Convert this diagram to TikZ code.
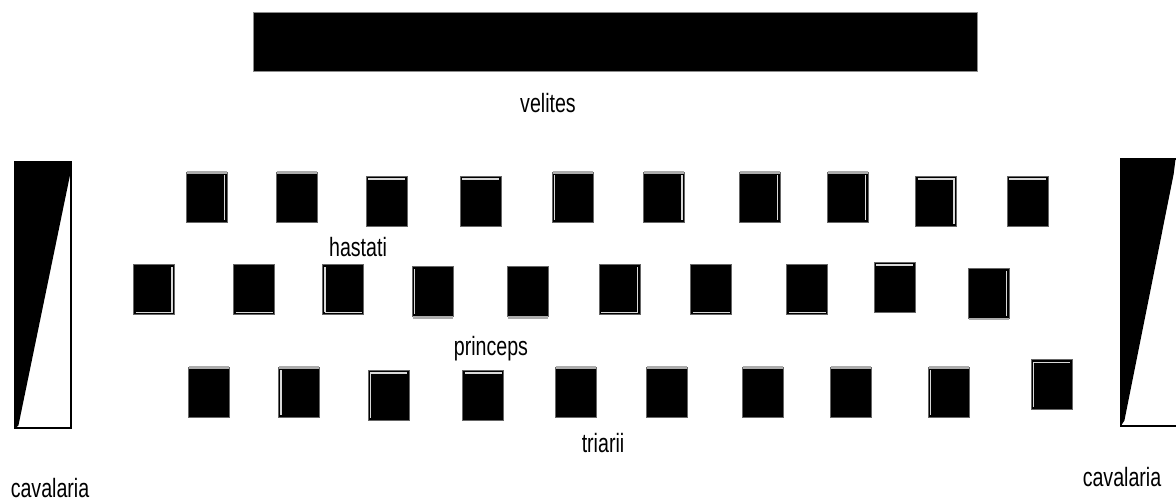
\documentclass[tikz,border=0pt]{standalone}
\usepackage{fontspec}
\newfontfamily\labfont[FakeStretch=0.74]{Liberation Sans}
\begin{document}
\begin{tikzpicture}[x=1pt,y=-1pt,
  sq/.style={rectangle,fill=black,draw=black!60,line width=1pt,minimum width=41pt,minimum height=50pt,inner sep=0pt},
  hl/.style={draw=gray!30,line width=1.4pt},
  gr/.style={draw=gray!65,line width=2.4pt},
  lab/.style={anchor=base,inner sep=0pt,font=\labfont\fontsize{26.5}{26.5}\selectfont},
  cav/.style={rectangle,draw=black,line width=1.2pt,inner sep=0pt,minimum width=56pt,minimum height=266pt}]
\useasboundingbox (0,0) rectangle (1176,502);
\fill[white] (0,0) rectangle (1176,502);

% velites
\node[rectangle,fill=black,draw=black!45,line width=1pt,minimum width=724pt,minimum height=59pt,inner sep=0pt] (vel) at (615,42.5) {};

% cavalry
\node[cav] (cavL) at (43,295) {};
\fill[black] (cavL.north west) -- (cavL.north east) -- ([yshift=-6pt]cavL.north east) -- ([shift={(4pt,3pt)}]cavL.south west) -- (cavL.south west) -- cycle;
\node[cav,minimum width=58pt,minimum height=267pt] (cavR) at (1150,292.5) {};
\fill[black] (cavR.north west) -- ([xshift=-4pt]cavR.north east) -- ([shift={(-6pt,-16pt)}]cavR.north east) -- ([shift={(4pt,6pt)}]cavR.south west) -- (cavR.south west) -- cycle;

% hastati
\foreach \i/\x/\y in {1/206.5/198,2/296.5/198,3/386.5/201.5,4/480.5/201.5,5/572.5/198,6/664/198,7/759.5/198,8/847.5/198,9/936/201.5,10/1027.5/201.5}
  \node[sq] (h\i) at (\x,\y) {};
% princeps
\foreach \i/\x/\y in {1/154/290,2/254/290,3/343/290,4/432.5/292,5/527.5/292,6/619.5/290,7/711/290,8/807/290,9/894.5/287.5,10/988.5/293.5}
  \node[sq] (p\i) at (\x,\y) {};
% triarii
\foreach \i/\x/\y in {1/209/393,2/299/393,3/388.5/395.5,4/483/395.5,5/575.5/393,6/667/393,7/762.5/393,8/850.5/393,9/948.5/393,10/1051.5/385}
  \node[sq] (t\i) at (\x,\y) {};

% grey edges
\foreach \n in {h1,h2,h5,h6,h7,h8,t1,t2,t5,t6,t7,t8,t9}
  \draw[gr] ([xshift=1pt]\n.north west) -- ([xshift=-1pt]\n.north east);
\foreach \n in {p4,p5,p10}
  \draw[gr] ([xshift=1pt]\n.south west) -- ([xshift=-1pt]\n.south east);
% light inner lines
\foreach \n in {h3,h4,h9,h10,p9,t3,t4,t10}
  \draw[hl] ([shift={(2.5pt,-3pt)}]\n.north west) -- ([shift={(-2.5pt,-3pt)}]\n.north east);
\foreach \n in {p1,p2,p3,p6,p7,p8}
  \draw[hl] ([shift={(2.5pt,3pt)}]\n.south west) -- ([shift={(-2.5pt,3pt)}]\n.south east);
\foreach \n in {h1,h6,h7,h8,h9,p1,p6,p10}
  \draw[hl] ([shift={(-3pt,-3pt)}]\n.north east) -- ([shift={(-3pt,3pt)}]\n.south east);
\foreach \n in {h5,p3,p4,t2,t3,t9,t10}
  \draw[hl] ([shift={(3pt,-3pt)}]\n.north west) -- ([shift={(3pt,3pt)}]\n.south west);

% labels
\node[lab] (lvel) at (548,113) {velites};
\node[lab] (lhas) at (358,257) {hastati};
\node[lab] (lpri) at (491,356) {princeps};
\node[lab] (ltri) at (603,453) {triarii};
\node[lab] (lcavL) at (50,497) {cavalaria};
\node[lab] (lcavR) at (1122,487) {cavalaria};
\end{tikzpicture}
\end{document}
